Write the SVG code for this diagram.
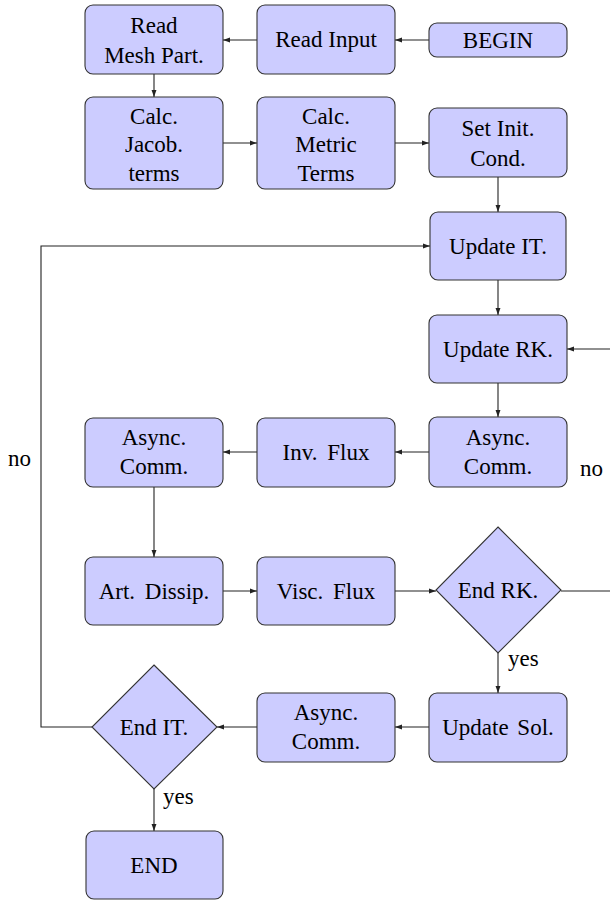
<svg xmlns="http://www.w3.org/2000/svg" width="610" height="900" viewBox="0 0 610 900">
<style>
.n rect,.n polygon{fill:#ccccff;stroke:#333;stroke-width:1.1}
text{font-family:Liberation Serif,DejaVu Serif,serif;font-size:23px;fill:#000;text-anchor:middle}
.c path{fill:none;stroke:#222;stroke-width:1.1}
.lbl{text-anchor:start}
</style>
<defs>
<marker id="ah" viewBox="0 0 10 10" refX="10" refY="5" markerWidth="7" markerHeight="7" markerUnits="userSpaceOnUse" orient="auto">
<path d="M0,1.5 L10,5 L0,8.5 z" fill="#222"/>
</marker>
</defs>
<g id="connectors" class="c">
<path d="M429,40 H395" marker-end="url(#ah)"/>
<path d="M257,40 H223" marker-end="url(#ah)"/>
<path d="M154,74 V97" marker-end="url(#ah)"/>
<path d="M223,143 H257" marker-end="url(#ah)"/>
<path d="M395,143 H429" marker-end="url(#ah)"/>
<path d="M498,177 V212" marker-end="url(#ah)"/>
<path d="M498,280 V315" marker-end="url(#ah)"/>
<path d="M498,383 V417" marker-end="url(#ah)"/>
<path d="M429,452 H395" marker-end="url(#ah)"/>
<path d="M257,452 H223" marker-end="url(#ah)"/>
<path d="M154,487 V557" marker-end="url(#ah)"/>
<path d="M223,591 H257" marker-end="url(#ah)"/>
<path d="M395,591 H436" marker-end="url(#ah)"/>
<path d="M561,591 H625 V349 H567" marker-end="url(#ah)"/>
<path d="M498,653 V693" marker-end="url(#ah)"/>
<path d="M429,727 H395" marker-end="url(#ah)"/>
<path d="M257,727 H217" marker-end="url(#ah)"/>
<path d="M154,789 V831" marker-end="url(#ah)"/>
<path d="M92,727 H41 V246 H430" marker-end="url(#ah)"/>
<text x="580" y="476" class="lbl">no</text>
<text x="8" y="466" class="lbl">no</text>
<text x="508" y="666" class="lbl">yes</text>
<text x="163" y="804" class="lbl">yes</text>
</g>
<g id="begin" class="n"><rect x="429" y="23" width="138" height="34" rx="8"/><text x="498" y="48">BEGIN</text></g>
<g id="read-input" class="n"><rect x="257" y="5" width="138" height="69" rx="8"/><text x="326" y="47">Read Input</text></g>
<g id="read-mesh" class="n"><rect x="85" y="5" width="138" height="69" rx="8"/><text x="154" y="33">Read</text><text x="154" y="63">Mesh Part.</text></g>
<g id="calc-jacob" class="n"><rect x="85" y="97" width="138" height="92" rx="8"/><text x="154" y="124">Calc.</text><text x="154" y="152">Jacob.</text><text x="154" y="181">terms</text></g>
<g id="calc-metric" class="n"><rect x="257" y="97" width="138" height="92" rx="8"/><text x="326" y="124">Calc.</text><text x="326" y="152">Metric</text><text x="326" y="181">Terms</text></g>
<g id="set-init" class="n"><rect x="429" y="108" width="138" height="69" rx="8"/><text x="498" y="136">Set Init.</text><text x="498" y="166">Cond.</text></g>
<g id="update-it" class="n"><rect x="430" y="212" width="136" height="68" rx="8"/><text x="498" y="254">Update IT.</text></g>
<g id="update-rk" class="n"><rect x="429" y="315" width="138" height="68" rx="8"/><text x="498" y="357">Update RK.</text></g>
<g id="async1" class="n"><rect x="429" y="417" width="138" height="70" rx="8"/><text x="498" y="445">Async.</text><text x="498" y="474">Comm.</text></g>
<g id="inv-flux" class="n"><rect x="257" y="418" width="138" height="69" rx="8"/><text x="326" y="460" word-spacing="4">Inv. Flux</text></g>
<g id="async2" class="n"><rect x="85" y="418" width="138" height="69" rx="8"/><text x="154" y="445">Async.</text><text x="154" y="474">Comm.</text></g>
<g id="art-dissip" class="n"><rect x="85" y="557" width="138" height="68" rx="8"/><text x="154" y="599" word-spacing="4">Art. Dissip.</text></g>
<g id="visc-flux" class="n"><rect x="257" y="557" width="138" height="68" rx="8"/><text x="326" y="599" word-spacing="4">Visc. Flux</text></g>
<g id="end-rk" class="n"><polygon points="498,527 561,590 498,653 436,590"/><text x="498" y="598">End RK.</text></g>
<g id="update-sol" class="n"><rect x="429" y="693" width="138" height="69" rx="8"/><text x="498" y="735" word-spacing="3">Update Sol.</text></g>
<g id="async3" class="n"><rect x="257" y="693" width="138" height="69" rx="8"/><text x="326" y="720">Async.</text><text x="326" y="749">Comm.</text></g>
<g id="end-it" class="n"><polygon points="154,665 217,727 154,789 92,727"/><text x="154" y="735">End IT.</text></g>
<g id="end" class="n"><rect x="86" y="831" width="137" height="68" rx="8"/><text x="154" y="873">END</text></g>
</svg>
